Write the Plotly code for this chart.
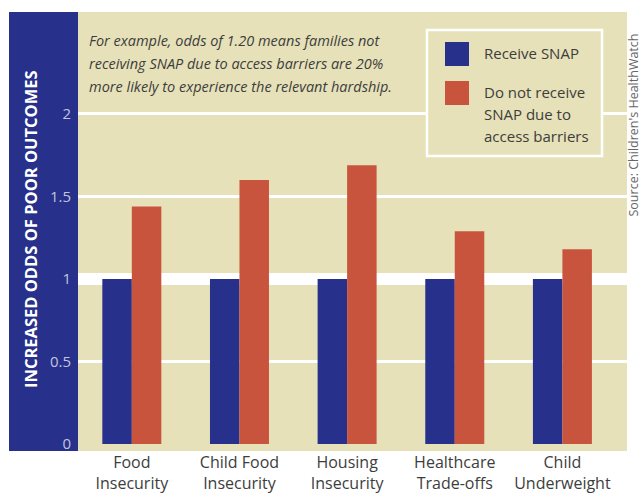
import plotly.graph_objects as go

# ---------------- data ----------------
categories = ["Food Insecurity", "Child Food Insecurity", "Housing Insecurity",
              "Healthcare Trade-offs", "Child Underweight"]
tick_labels = ["Food<br>Insecurity", "Child Food<br>Insecurity", "Housing<br>Insecurity",
               "Healthcare<br>Trade-offs", "Child<br>Underweight"]
receive_snap = [1.0, 1.0, 1.0, 1.0, 1.0]
no_snap_barriers = [1.44, 1.60, 1.69, 1.29, 1.18]
series_names = ["Receive SNAP", "Do not receive<br>SNAP due to<br>access barriers"]
y_ticks = [0, 0.5, 1, 1.5, 2]
y_tick_text = ["0", "0.5", "1", "1.5", "2"]
reference_odds = 1.0
note_lines = ["For example, odds of 1.20 means families not",
              "receiving SNAP due to access barriers are 20%",
              "more likely to experience the relevant hardship."]
y_title = "INCREASED ODDS OF POOR OUTCOMES"
source_text = "Source: Children's HealthWatch"

# ---------------- style ----------------
W, H = 642, 496
L, R, T, B = 78, 15, 12, 45
PW, PH = W - L - R, H - T - B
TAN = "#E6E1B8"
BLUE = "#27308A"
RED = "#C8543D"
TXT = "#3d3d3d"
FONT = "Open Sans"


def px_x(p):
    return (p - L) / PW


def px_y(p):
    return (H - B - p) / PH


fig = go.Figure()
fig.add_trace(go.Bar(x=categories, y=receive_snap, name="Receive SNAP",
                     marker=dict(color=BLUE, line=dict(width=0)), showlegend=False))
fig.add_trace(go.Bar(x=categories, y=no_snap_barriers, name="Do not receive SNAP due to access barriers",
                     marker=dict(color=RED, line=dict(width=0)), showlegend=False))

shapes = [
    # blue strip behind y axis
    dict(type="rect", xref="paper", yref="paper", x0=px_x(9), x1=0, y0=0, y1=1,
         fillcolor=BLUE, line=dict(width=0), layer="below"),
    # thick reference line at odds = 1
    dict(type="line", xref="paper", yref="y", x0=0, x1=1, y0=reference_odds, y1=reference_odds,
         line=dict(color="white", width=12), layer="between"),
    # legend box
    dict(type="rect", xref="paper", yref="paper", x0=px_x(427), x1=px_x(602),
         y0=px_y(156), y1=px_y(30), fillcolor=TAN, line=dict(color="white", width=2.5),
         layer="above"),
    dict(type="rect", xref="paper", yref="paper", x0=px_x(445), x1=px_x(469),
         y0=px_y(66), y1=px_y(42), fillcolor=BLUE, line=dict(width=0), layer="above"),
    dict(type="rect", xref="paper", yref="paper", x0=px_x(445), x1=px_x(469),
         y0=px_y(105), y1=px_y(81), fillcolor=RED, line=dict(width=0), layer="above"),
]

annotations = []
# legend texts
annotations.append(dict(text=series_names[0], xref="paper", yref="paper",
                        x=px_x(482), y=px_y(53), xanchor="left", yanchor="middle",
                        showarrow=False, font=dict(family=FONT, size=15, color=TXT)))
for i, line in enumerate(series_names[1].split("<br>")):
    annotations.append(dict(text=line, xref="paper", yref="paper",
                            x=px_x(482), y=px_y(92 + 22 * i), xanchor="left", yanchor="middle",
                            showarrow=False, font=dict(family=FONT, size=15, color=TXT)))
# explanatory note
for i, line in enumerate(note_lines):
    annotations.append(dict(text=line, xref="paper", yref="paper",
                            x=px_x(87), y=px_y(40 + 23 * i), xanchor="left", yanchor="middle",
                            showarrow=False,
                            font=dict(family=FONT, size=14.5, color=TXT, style="italic")))
# y title
annotations.append(dict(text="<b>" + y_title + "</b>", xref="paper", yref="paper",
                        x=px_x(31), y=px_y(229), xanchor="center", yanchor="middle",
                        textangle=-90, showarrow=False,
                        font=dict(family=FONT, size=16.5, color="white")))
# source
annotations.append(dict(text=source_text, xref="paper", yref="paper",
                        x=px_x(633.5), y=px_y(125), xanchor="center", yanchor="middle",
                        textangle=-90, showarrow=False,
                        font=dict(family=FONT, size=12.5, color="#666666")))

fig.update_layout(
    width=W, height=H,
    margin=dict(l=L, r=R, t=T, b=B, pad=0, autoexpand=False),
    paper_bgcolor="white", plot_bgcolor=TAN,
    barmode="group", bargap=0.452, bargroupgap=0,
    showlegend=False,
    shapes=shapes, annotations=annotations,
    xaxis=dict(type="category", range=[-0.5, 4.60], tickmode="array",
               tickvals=categories, ticktext=tick_labels, showgrid=False,
               ticks="", showline=False, zeroline=False, automargin=False,
               tickfont=dict(family=FONT, size=16, color=TXT)),
    yaxis=dict(range=[-0.042, 2.618], tickmode="array", tickvals=y_ticks,
               ticktext=y_tick_text, showgrid=True, gridcolor="white", gridwidth=2.5,
               zeroline=True, zerolinecolor=TAN, zerolinewidth=3, automargin=False,
               ticks="", showline=False, ticklabelstandoff=6,
               tickfont=dict(family=FONT, size=15, color="#c2c4dc")),
)

fig.write_html("out.html", config={"displayModeBar": False},
               post_script="document.body.style.margin='0';")
